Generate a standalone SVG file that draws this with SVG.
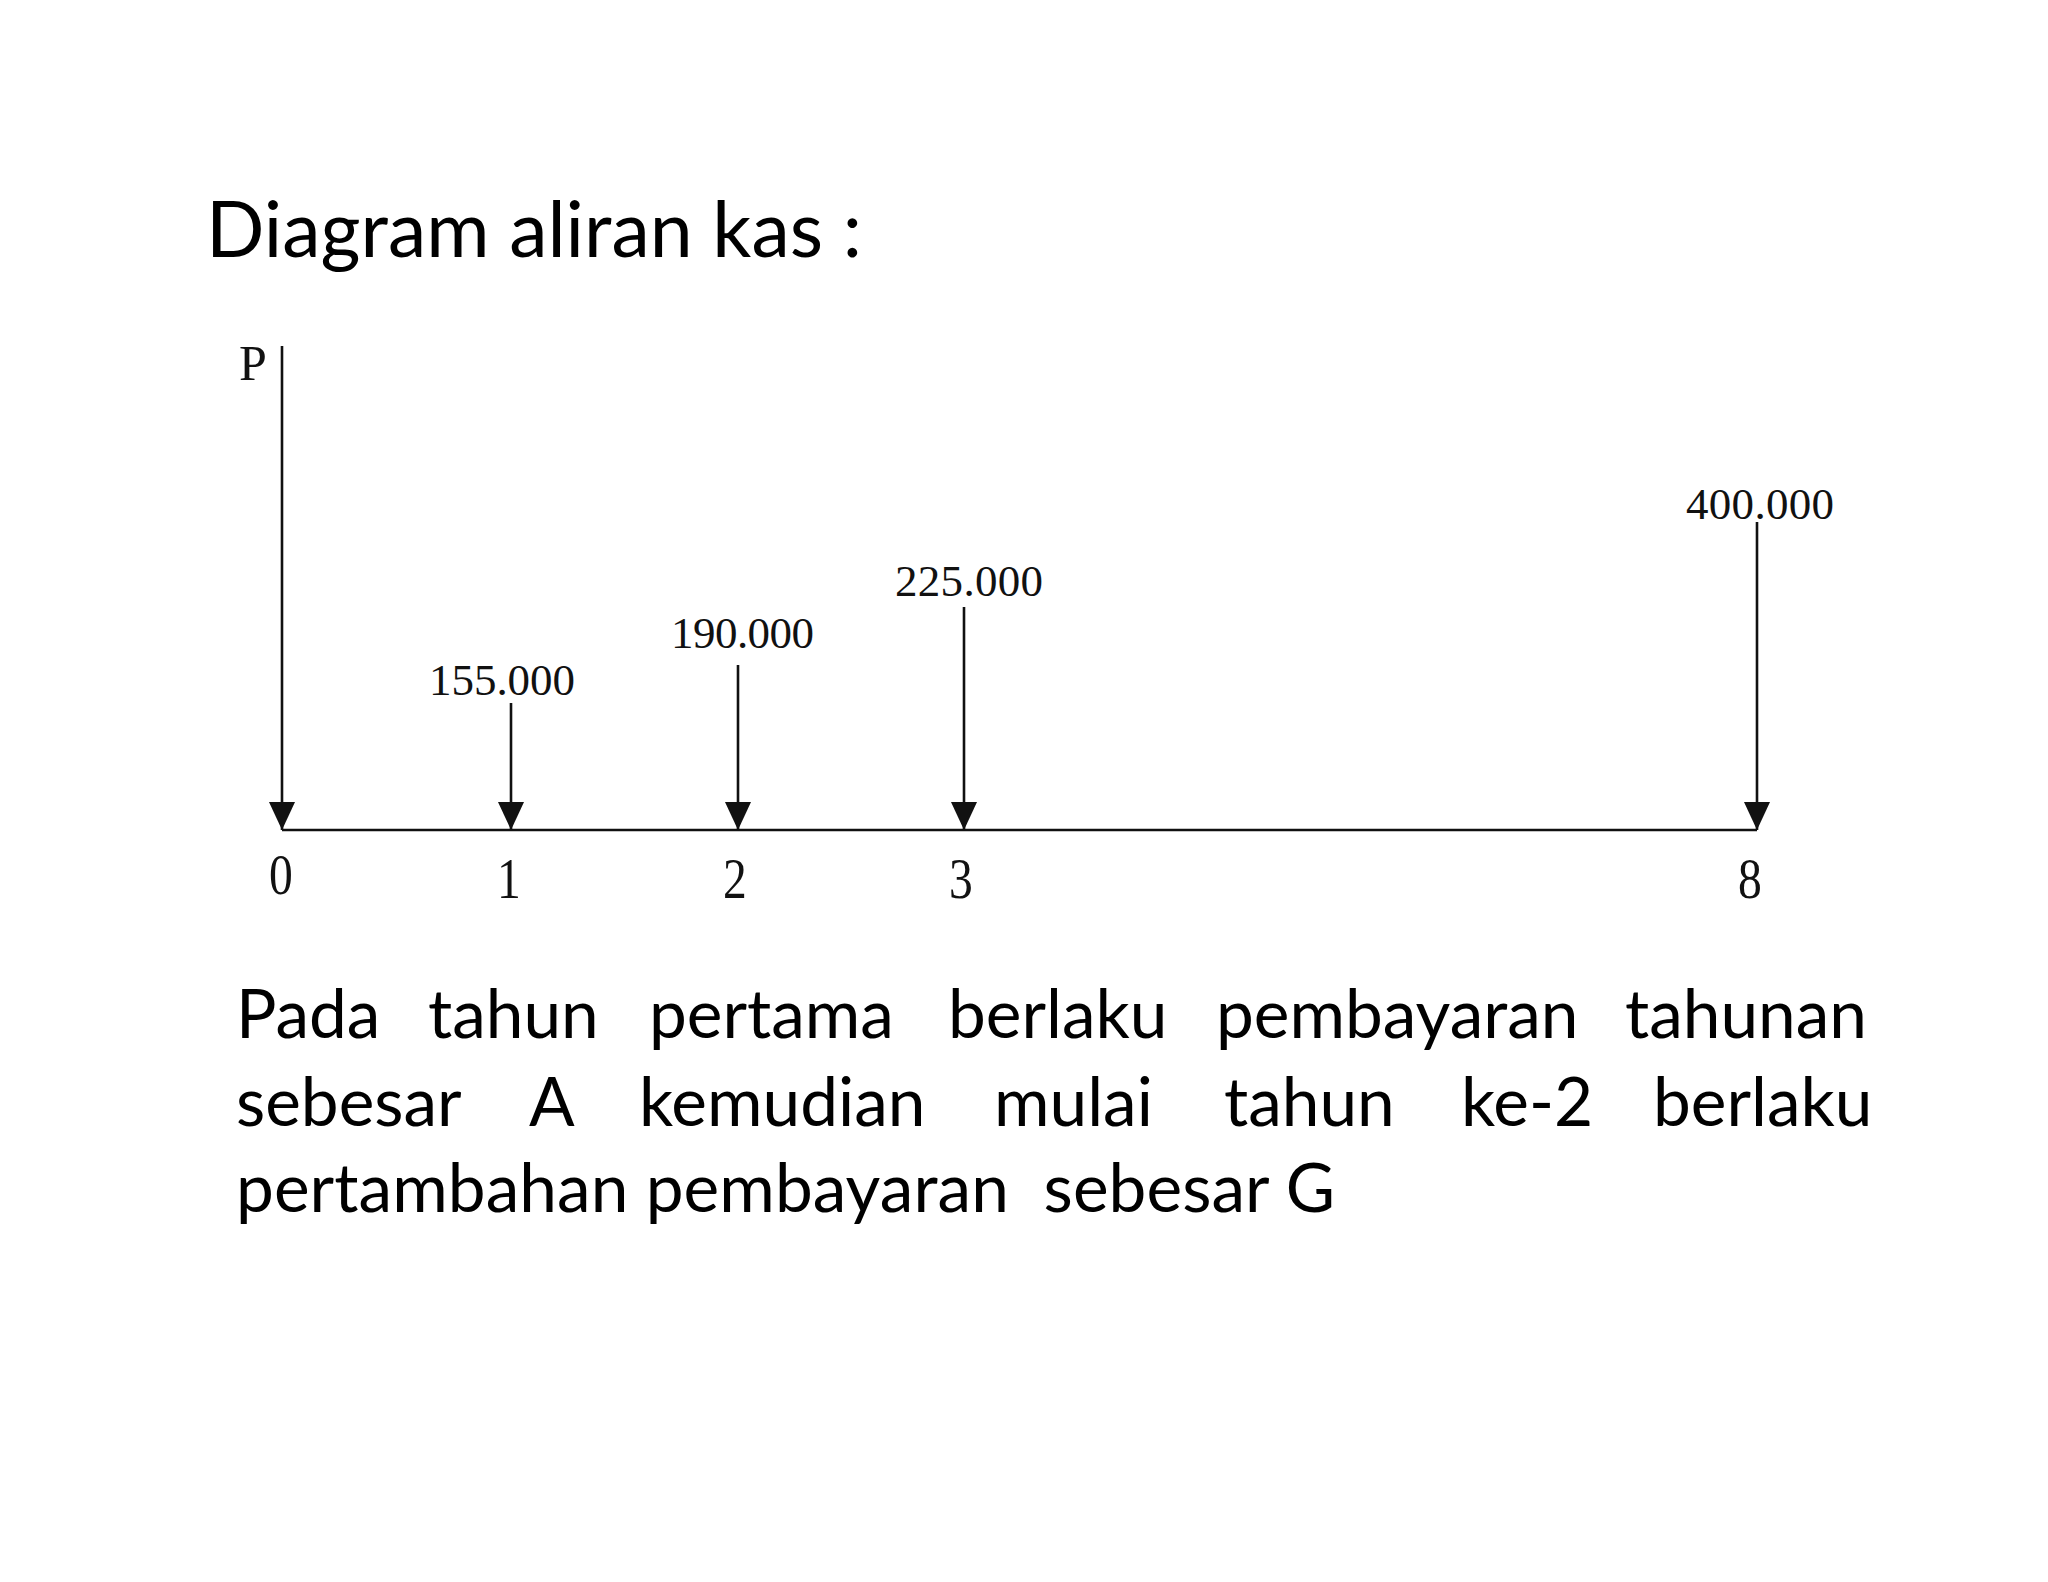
<svg xmlns="http://www.w3.org/2000/svg" width="2048" height="1582" viewBox="0 0 2048 1582">
<style>
.title{font-family:Lato,"Open Sans",sans-serif;font-size:78px;fill:#000}
.para{font-family:Lato,"Open Sans",sans-serif;font-size:67.5px;fill:#000}
.lbl{font-family:"Liberation Serif","Times New Roman",serif;font-size:45px;fill:#111}
.tick{font-family:"Liberation Serif","Times New Roman",serif;font-size:58px;fill:#111}
.arr{stroke:#111;stroke-width:2.6;fill:none}
</style>
<defs>
<marker id="ah" markerUnits="userSpaceOnUse" viewBox="0 -14 28 28" markerWidth="28" markerHeight="28" refX="28" refY="0" orient="auto">
<path d="M0,-13 L28,0 L0,13 z" fill="#111"/>
</marker>
</defs>
<rect width="2048" height="1582" fill="#fff"/>
<text class="title" x="206" y="257" textLength="656" lengthAdjust="spacingAndGlyphs">Diagram aliran kas :</text>

<g id="axis"><line class="arr" x1="282" y1="830" x2="1757" y2="830"/></g>

<g id="connectors">
<line class="arr" x1="282" y1="346" x2="282" y2="830" marker-end="url(#ah)"/>
<line class="arr" x1="511" y1="703" x2="511" y2="830" marker-end="url(#ah)"/>
<line class="arr" x1="738" y1="665" x2="738" y2="830" marker-end="url(#ah)"/>
<line class="arr" x1="964" y1="607" x2="964" y2="830" marker-end="url(#ah)"/>
<line class="arr" x1="1757" y1="522" x2="1757" y2="830" marker-end="url(#ah)"/>
</g>

<g id="node-p"><text class="lbl" x="239" y="380" style="font-size:50px">P</text></g>
<g id="node-1"><text class="lbl" x="429" y="695" textLength="146">155.000</text></g>
<g id="node-2"><text class="lbl" x="671" y="648" textLength="143">190.000</text></g>
<g id="node-3"><text class="lbl" x="895" y="596" textLength="148">225.000</text></g>
<g id="node-8"><text class="lbl" x="1686" y="519" textLength="148">400.000</text></g>

<g id="ticks">
<text class="tick" transform="translate(281,894) scale(0.82,1)" text-anchor="middle">0</text>
<text class="tick" transform="translate(509,898) scale(0.82,1)" text-anchor="middle">1</text>
<text class="tick" transform="translate(735,898) scale(0.82,1)" text-anchor="middle">2</text>
<text class="tick" transform="translate(961,898) scale(0.82,1)" text-anchor="middle">3</text>
<text class="tick" transform="translate(1750,898) scale(0.82,1)" text-anchor="middle">8</text>
</g>

<g id="paragraph">
<text class="para" y="1038"><tspan x="236">Pada</tspan><tspan x="428">tahun</tspan><tspan x="649">pertama</tspan><tspan x="948">berlaku</tspan><tspan x="1216">pembayaran</tspan><tspan x="1625">tahunan</tspan></text>
<text class="para" y="1126"><tspan x="236">sebesar</tspan><tspan x="529">A</tspan><tspan x="639">kemudian</tspan><tspan x="994">mulai</tspan><tspan x="1224">tahun</tspan><tspan x="1461">ke-2</tspan><tspan x="1653">berlaku</tspan></text>
<text class="para" y="1212" xml:space="preserve" x="236" textLength="1099">pertambahan pembayaran  sebesar G</text>
</g>
</svg>
